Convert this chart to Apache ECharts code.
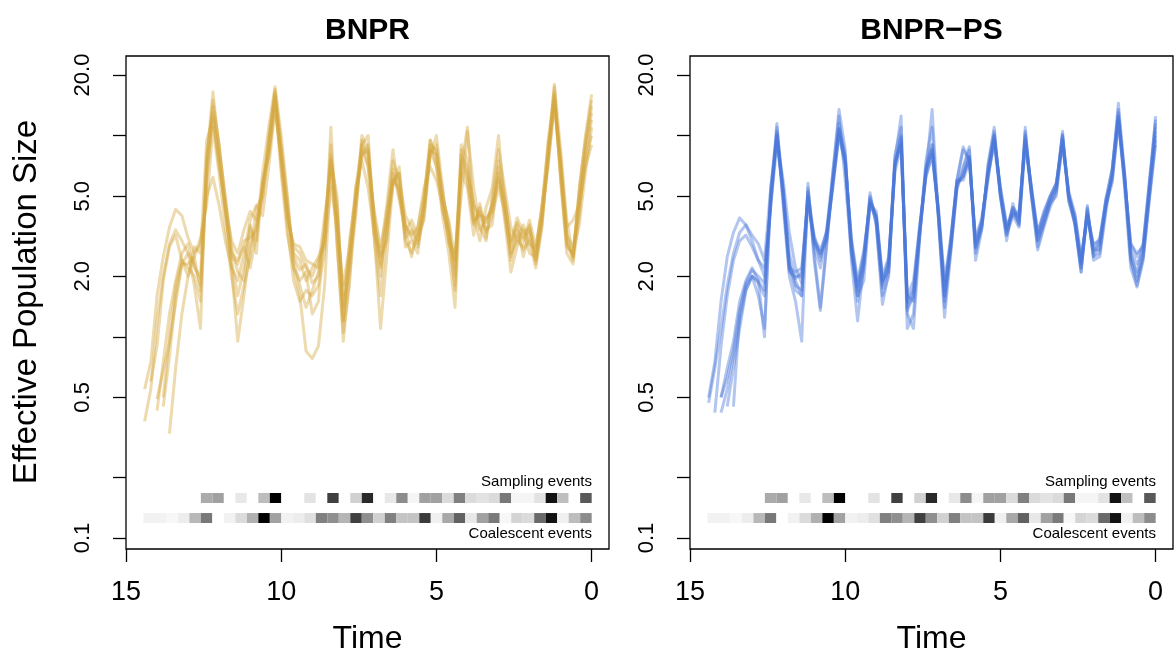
<!DOCTYPE html>
<html>
<head>
<meta charset="utf-8">
<script src="https://cdn.jsdelivr.net/npm/echarts@6/dist/echarts.min.js"></script>
<style>
html,body{margin:0;padding:0;background:#fff;}
#chart{width:1176px;height:662px;}
</style>
</head>
<body>
<div id="chart"></div>
<script>
// ---------------- DATA ----------------
const times = [0,0.2,0.4,0.6,0.8,1,1.2,1.4,1.6,1.8,2,2.2,2.4,2.6,2.8,3,3.2,3.4,3.6,3.8,4,4.2,4.4,4.6,4.8,5,5.2,5.4,5.6,5.8,6,6.2,6.4,6.6,6.8,7,7.2,7.4,7.6,7.8,8,8.2,8.4,8.6,8.8,9,9.2,9.4,9.6,9.8,10,10.2,10.4,10.6,10.8,11,11.2,11.4,11.6,11.8,12,12.2,12.4,12.6,12.8,13,13.2,13.4,13.6,13.8,14,14.2,14.4];

// BNPR trajectories (values at each time in `times`, null = before TMRCA)
const bnpr1 = [16,9.9,5.3,2.5,2.9,6.2,15.6,7.6,3.9,2.4, 3.4,3.1,3.7,2.9,4.8,6.2,4.4,3.7,4.2,3.7, 6.0,7.0,2.2,3.4,5.3,8.0,8.5,4.2,2.9,3.4, 3.1,6.5,6.0,3.7,2.3,3.7,8.5,8.0,4.8,2.5, 1.25,4.2,7.6,3.3,2.0,1.85,2.3,2.15,2.5,4.4, 7.6,15.6,8.5,5.3,3.4,3.1,3.0,2.3,2.5,4.2, 7.6,12.4,6.6,1.7,2.5,2.3,2.3,1.47,0.93,0.68, 0.49,null,null];
const bnpr2 = [9,7,4.5,3.8,3.5,7,14,9,4.5,2.7, 2.9,3.6,3.0,3.5,5.5,8.5,5.0,3.0,3.5,5.5, 10.5,5.0,2.6,3.0,4.5,6.0,7.0,5.5,3.5,3.2, 3.6,5.0,8.5,4.5,2.6,3.2,5.5,7.5,5.5,2.8, 1.8,3.5,5.5,2.8,2.4,2.0,2.2,2.6,2.8,4.0, 8.0,13.5,7.0,4.0,4.5,3.8,2.6,1.9,2.2,3.0, 4.5,6.2,5.0,2.9,2.6,3.1,4.0,4.3,3.5,2.5, 1.6,0.75,0.55];
const bnpr3 = [13,8.5,4.0,2.3,2.6,6.0,17.5,8.0,3.5,2.2, 3.0,2.7,3.2,2.4,4.2,5.5,4.0,3.3,4.6,3.2, 5.5,6.5,1.4,2.6,4.0,7.0,9.5,4.8,2.6,3.0, 2.8,6.5,5.6,3.4,1.6,3.0,7.0,9.5,4.0,2.0, 0.95,3.0,11,2.6,1.8,1.6,1.7,1.5,1.9,3.5, 7.0,16.5,9.5,4.8,3.6,2.8,1.6,0.95,2.2,4.5, 9.0,14,8.0,1.1,1.8,2.6,3.0,3.4,2.9,2.0, 1.2,0.55,0.38];
const bnpr4 = [15,9.5,5.5,2.4,3.2,7.5,16,9.5,4.2,2.8, 3.8,3.0,3.4,2.5,4.5,10,5.5,4.4,3.0,4.0, 7.5,9.0,2.0,3.6,5.0,9.0,8.0,3.8,3.2,3.8, 3.3,4.8,6.8,3.0,2.5,4.0,8.5,10,4.5,2.2, 1.4,4.5,8.0,3.6,1.5,1.3,2.1,1.9,2.2,4.8, 9.0,17,9.0,5.8,3.0,3.5,1.9,2.1,2.8,5.0, 8.5,16.5,7.5,2.0,2.2,2.9,2.6,1.9,1.3,0.75, 0.43,null,null];
const bnpr5 = [11,6.5,3.6,2.6,2.8,6.5,15,7.0,4.0,2.5, 2.6,3.4,2.8,2.1,3.8,6.5,4.5,3.8,3.4,4.6, 6.5,7.5,1.8,3.2,4.5,8.0,9.5,5.0,3.5,2.5, 3.5,7.0,5.8,2.5,1.1,3.2,9.0,8.0,5.0,3.0, 1.2,3.2,7.0,1.8,0.9,0.78,0.85,1.6,2.2,3.2, 6.5,15,8.0,6.0,2.6,3.6,2.2,1.6,2.4,4.2, 7.5,13,6.0,1.8,2.3,2.6,2.3,1.6,0.8,0.45, null,null,null];
const bnpr6 = [12,8.0,4.8,2.5,3.8,8.5,18,8.5,3.6,2.3, 3.3,2.5,3.6,2.8,5.0,7.5,3.6,3.4,4.0,3.8, 11,7.0,2.4,2.9,5.5,10,8.0,4.4,3.2,2.6, 3.0,5.5,6.0,4.2,2.0,3.5,10,9.0,5.5,1.8, 1.05,2.8,9.0,3.0,2.5,2.2,1.9,2.4,2.6,4.2, 8.5,16,10,5.0,4.4,2.5,1.8,1.3,2.0,3.5, 6.5,11,4.5,3.1,2.5,2.0,1.3,0.7,0.33,null, null,null,null];
const bnpr7 = [10,7.5,4.2,2.8,3.2,8.0,14,7.5,4.5,2.6, 3.5,3.3,3.9,3.0,4.6,6.0,4.2,3.9,4.0,4.5, 7.0,8.0,2.4,3.8,4.8,7.0,8.5,4.5,3.0,3.5, 4.0,6.0,7.5,4.0,2.8,4.2,7.0,8.5,5.0,2.6, 1.6,4.0,6.5,4.0,2.2,2.3,2.4,2.8,2.9,3.8, 7.5,14,8.0,5.5,3.8,4.2,3.4,2.6,3.0,4.5, 7.0,12,9.5,2.6,2.8,2.0,2.4,3.2,2.8,1.9, 0.9,0.6,null];
const bnpr8 = [14,9.0,5.0,2.5,3.0,7.0,16.5,8.0,3.8,2.4, 3.6,2.8,3.0,2.6,4.0,7.0,4.8,3.1,4.4,3.6, 6.0,8.5,1.7,3.3,4.2,8.5,9.0,4.0,2.8,3.1, 3.6,5.2,6.5,3.3,2.2,3.8,8.0,9.0,4.2,2.4, 1.2,5.0,7.5,3.4,2.1,1.7,1.4,1.8,2.4,5.0, 10,17.5,11,6.5,3.2,2.2,2.8,2.4,2.6,4.8, 9.0,15,7.0,1.5,2.0,2.2,2.4,1.8,1.0,0.5, null,null,null];

// BNPR-PS trajectories
const ps1 = [10.5,5.3,2.7,2.3,2.7,6.2,12.4,6.2,4.6,2.9, 2.7,4.2,2.3,3.9,5.0,9.9,5.6,4.8,3.9,3.1, 5.3,9.9,3.9,4.2,3.4,5.3,9.9,6.6,3.7,2.9, 7.9,6.2,5.8,2.9,1.7,4.2,8.5,6.6,3.4,1.7, 1.47,9.5,7.0,2.3,1.85,3.9,4.8,2.5,1.77,2.9, 7.6,10.6,5.8,3.1,2.5,2.9,5.0,2.0,2.0,2.15, 5.0,10.3,4.8,1.85,2.0,2.15,1.85,1.37,0.86,0.63, 0.5,null,null];
const ps2 = [12,6.0,2.9,2.1,2.5,6.5,13,6.8,4.8,3.0, 2.6,4.0,2.2,3.6,5.2,9.5,5.0,4.6,3.7,3.0, 5.5,9.0,3.5,4.0,3.2,5.0,10,6.0,3.5,2.8, 7.5,8.5,6.0,2.8,1.6,4.0,13.5,6.5,3.2,1.5, 1.6,10,7.0,2.1,1.9,4.0,4.5,2.3,1.7,2.6, 6.0,12.5,6.5,3.4,2.4,3.2,4.5,1.6,1.9,2.6, 5.5,9.0,4.5,2.0,2.4,3.0,3.6,3.9,3.3,2.5, 1.5,0.75,0.5];
const ps3 = [9.5,5.0,2.5,1.9,2.4,5.8,13.5,6.5,4.4,2.6, 2.5,4.4,2.1,3.6,4.8,10.5,5.4,4.6,3.6,2.8, 5.0,10.5,3.6,4.4,3.2,5.0,10.5,7.0,3.5,2.6, 8.5,6.8,5.4,2.7,1.4,4.0,9.0,7.0,3.2,1.3, 1.1,12.5,7.5,2.0,1.6,3.6,5.0,2.2,1.5,2.6, 8.0,11.5,6.0,2.9,1.4,2.6,5.5,1.6,1.7,2.3, 5.5,11,4.4,2.2,2.4,2.8,3.2,3.0,2.4,1.6, 0.9,0.42,null];
const ps4 = [11,5.8,2.9,2.5,2.9,6.0,11.5,5.8,4.5,3.0, 2.9,4.0,2.5,4.1,5.3,9.0,5.8,5.0,4.2,3.3, 5.6,9.5,4.2,4.0,3.6,5.6,9.5,6.2,3.9,3.1, 7.5,6.0,6.0,3.1,1.9,4.4,8.0,6.2,3.6,1.9, 1.6,9.0,6.5,2.5,2.0,4.2,4.6,2.7,1.9,3.1, 7.2,10,5.5,3.3,2.6,3.0,4.8,2.2,2.1,2.2, 4.8,10,5.0,1.7,1.9,2.0,1.7,1.2,0.8,0.55, 0.42,null,null];
const ps5 = [10,5.0,2.5,1.8,2.4,6.5,14.5,6.6,4.2,2.5, 2.4,4.5,2.1,3.7,4.7,10,5.2,4.4,3.5,2.7, 5.0,11,3.6,4.6,3.0,5.0,11,7.2,3.4,2.4, 8.8,7.0,5.5,2.6,1.25,3.9,11,7.5,3.1,1.1, 1.3,11,8.0,2.1,1.45,3.6,5.2,2.3,1.2,2.4, 8.5,13.5,6.5,2.8,1.35,2.4,5.8,0.95,1.5,2.0, 4.5,11.5,5.0,1.1,1.6,2.0,1.8,1.3,0.45,null, null,null,null];
const ps6 = [11.5,5.6,2.8,2.6,2.9,6.0,12,6.0,4.8,3.1, 2.8,4.1,2.4,4.0,5.1,9.6,5.8,5.0,4.1,3.3, 5.4,9.6,4.0,4.4,3.5,5.4,9.6,6.5,3.8,3.0, 7.6,8.8,6.0,3.0,1.8,4.3,8.5,6.8,3.5,1.75, 1.5,9.2,7.2,2.4,1.9,4.0,4.7,2.6,1.8,3.0, 7.4,10.2,5.6,3.0,2.6,3.0,5.2,2.1,1.95,2.1, 5.2,10.5,5.5,1.0,1.9,2.2,1.9,1.5,0.95,0.7, 0.5,null,null];
const ps7 = [9.0,4.8,2.4,1.77,2.2,5.5,12.5,6.8,4.9,2.8, 2.5,4.3,2.2,3.7,5.0,9.0,5.4,4.7,3.7,3.0, 5.1,9.2,3.7,4.1,3.3,5.1,9.0,6.4,3.6,2.75, 7.8,6.4,5.7,2.8,1.6,4.1,8.0,6.3,3.3,1.6, 1.35,9.0,7.5,2.2,1.75,3.8,4.6,1.9,1.6,2.8, 7.0,10.8,5.9,3.3,2.7,3.1,5.3,1.85,2.2,3.3, 6.0,9.5,5.5,2.4,2.9,3.2,3.6,3.3,2.6,1.8, 1.1,0.7,0.47];
const ps8 = [12.5,5.5,2.6,2.0,2.6,6.4,11.8,6.4,4.5,2.7, 2.7,4.0,2.35,3.8,4.9,10.2,5.7,4.9,4.0,3.2, 5.2,10.2,3.8,4.3,3.4,5.2,10.2,6.7,3.6,2.8, 7.7,6.3,5.9,3.0,1.5,4.2,9.0,6.7,3.3,1.6, 1.4,9.8,7.2,2.4,1.8,3.9,4.9,2.4,1.6,2.8, 7.8,10.8,6.0,3.2,2.2,2.8,5.0,1.7,1.8,2.3, 5.2,10.0,4.6,1.6,1.85,2.0,1.7,1.1,0.7,0.45, null,null,null];

// Event densities per time bin (0 = none, 1 = max), listed oldest -> most recent
const eventBinStart = 14.44;   // oldest bin edge (time)
const eventBinWidth = 0.3703;  // bin width (time)
const samplingEvents = [0,0,0,0,0,0.33,0.37,0,0.09,0, 0.26,1.0,0,0,0.11,0,0.75,0,0.18,0.84, 0,0.09,0.45,0.04,0.37,0.37,0.14,0.5,0.14,0.11, 0.14,0.53,0.04,0.04,0.11,0.93,0.25,0,0.65];
const coalescentEvents = [0.05,0.05,0.03,0.07,0.28,0.53,0,0.05,0.14,0.31, 1.0,0.37,0.05,0.07,0.12,0.5,0.44,0.29,0.75,0.44, 0.18,0.5,0.23,0.23,0.77,0.06,0.34,0.62,0.09,0.37, 0.52,0.03,0.17,0.14,0.59,0.93,0.06,0.26,0.45];

const xTickValues = [0,5,10,15];
const yTickValues = [0.1,0.2,0.5,1,2,5,10,20];
const yLabelValues = [0.1,0.5,2,5,20];
const yLabelTexts = ['0.1','0.5','2.0','5.0','20.0'];
const panelTitles = ['BNPR','BNPR\u2212PS'];

// ---------------- CHART ----------------
const FONT = "'Liberation Sans', Arial, Helvetica, sans-serif";
const L10 = Math.log10;
const chart = echarts.init(document.getElementById('chart'), null, {renderer:'canvas'});

const grids = [
  {left:126, top:56, width:483, height:493},
  {left:690, top:56, width:483, height:493}
];

function toPairs(vals){
  const out=[];
  vals.forEach((v,i)=>{ if(v!==null) out.push([times[i], L10(v)]); });
  return out;
}

const yMin = L10(0.0882), yMax = L10(24.87);

function makeX(i){
  return {
    type:'value', gridIndex:i, min:-0.56, max:15.0, inverse:true, position:'bottom',
    axisLine:{show:false, onZero:false}, splitLine:{show:false},
    axisTick:{show:true, length:13, lineStyle:{color:'#000', width:1.3}, customValues:xTickValues},
    axisLabel:{customValues:xTickValues, fontSize:27, color:'#000', margin:30, fontFamily:FONT}
  };
}
function makeY(i){
  return {
    type:'value', gridIndex:i, min:yMin, max:yMax, position:'left',
    axisLine:{show:false, onZero:false}, splitLine:{show:false},
    axisTick:{show:true, length:13, lineStyle:{color:'#000', width:1.3}, customValues:yTickValues.map(L10)},
    axisLabel:{
      customValues:yLabelValues.map(L10), rotate:90, fontSize:22, color:'#000', margin:32, fontFamily:FONT,
      formatter:(v)=>{
        let best=0, bd=1e9;
        yLabelValues.forEach((t,k)=>{ const d=Math.abs(L10(t)-v); if(d<bd){bd=d;best=k;} });
        return yLabelTexts[best];
      }
    }
  };
}

function stripSeries(gi){
  const data=[];
  const rows=[samplingEvents, coalescentEvents];
  // vertical extents of the two strips (log10 of data value)
  const rowY=[[L10(0.1674),L10(0.1493)],[L10(0.1331),L10(0.1188)]];
  rows.forEach((arr,r)=>{
    arr.forEach((d,j)=>{
      const tHi=eventBinStart-j*eventBinWidth, tLo=tHi-eventBinWidth;
      data.push([tHi,tLo,rowY[r][0],rowY[r][1],d]);
    });
  });
  return {
    type:'custom', xAxisIndex:gi, yAxisIndex:gi, silent:true, z:1,
    encode:{x:[0,1], y:[2,3]},
    data,
    renderItem:(params, api)=>{
      const p1=api.coord([api.value(0), api.value(2)]);
      const p2=api.coord([api.value(1), api.value(3)]);
      const g=Math.round(255*(1-api.value(4)));
      return {type:'rect', shape:{x:Math.min(p1[0],p2[0]), y:p1[1], width:Math.abs(p2[0]-p1[0]), height:p2[1]-p1[1]},
        style:{fill:'rgb('+g+','+g+','+g+')'}};
    }
  };
}

const bnprLines=[bnpr1,bnpr2,bnpr3,bnpr4,bnpr5,bnpr6,bnpr7,bnpr8];
const psLines=[ps1,ps2,ps3,ps4,ps5,ps6,ps7,ps8];
const series=[stripSeries(0), stripSeries(1)];
bnprLines.forEach(vals=>series.push({type:'line', xAxisIndex:0, yAxisIndex:0, data:toPairs(vals), showSymbol:false, symbol:'none', silent:true,
  lineStyle:{color:'rgba(212,168,62,0.42)', width:3, join:'round'}, z:3}));
psLines.forEach(vals=>series.push({type:'line', xAxisIndex:1, yAxisIndex:1, data:toPairs(vals), showSymbol:false, symbol:'none', silent:true,
  lineStyle:{color:'rgba(75,118,218,0.42)', width:3, join:'round'}, z:3}));

const graphic=[];
grids.forEach((g,i)=>{
  const cx=g.left+g.width/2;
  graphic.push({type:'text', x:cx, y:31, style:{text:panelTitles[i], font:'bold 30px '+FONT, fill:'#000', align:'center', verticalAlign:'middle'}});
  graphic.push({type:'text', x:cx, y:639, style:{text:'Time', font:'32px '+FONT, fill:'#000', align:'center', verticalAlign:'middle'}});
  graphic.push({type:'text', x:g.left+466, y:482, style:{text:'Sampling events', font:'15px '+FONT, fill:'#000', align:'right', verticalAlign:'middle'}});
  graphic.push({type:'text', x:g.left+466, y:534, style:{text:'Coalescent events', font:'15px '+FONT, fill:'#000', align:'right', verticalAlign:'middle'}});
});
graphic.push({type:'text', x:27, y:302, rotation:Math.PI/2, style:{text:'Effective Population Size', font:'33px '+FONT, fill:'#000', align:'center', verticalAlign:'middle'}});

chart.setOption({
  animation:false,
  backgroundColor:'#fff',
  grid:grids.map(g=>Object.assign({show:true, borderColor:'#000', borderWidth:1.3, containLabel:false}, g)),
  xAxis:[makeX(0), makeX(1)],
  yAxis:[makeY(0), makeY(1)],
  series,
  graphic
});
</script>
</body>
</html>
